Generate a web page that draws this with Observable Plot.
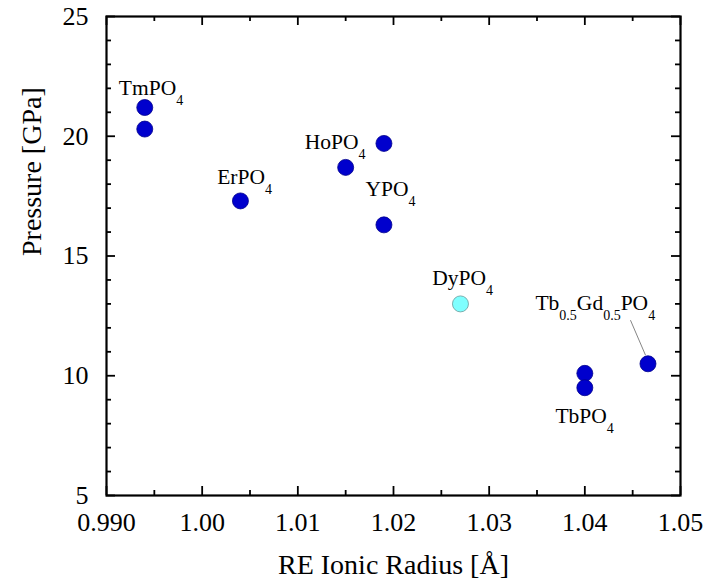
<!DOCTYPE html>
<html><head><meta charset="utf-8">
<script src="https://cdn.jsdelivr.net/npm/d3@7"></script>
<script src="https://cdn.jsdelivr.net/npm/@observablehq/plot@0.6"></script>
<style>
html,body{margin:0;padding:0;background:#fff}
#chart svg{display:block}
</style>
</head><body><div id="chart"></div>
<script>
// ---- data ----
const radius   = [0.994, 0.994, 1.004, 1.015, 1.019, 1.019, 1.027, 1.040, 1.040, 1.0466];
const pressure = [21.2, 20.3, 17.3, 18.7, 19.7, 16.3, 13.0, 10.1, 9.5, 10.5];
const compound = ["TmPO4","TmPO4","ErPO4","HoPO4","YPO4","YPO4","DyPO4","TbPO4","TbPO4","Tb0.5Gd0.5PO4"];
const kind     = ["exp","exp","exp","exp","exp","exp","other","exp","exp","exp"];

// annotation labels (anchor in data units: left end of text, baseline)
const labelText = ["TmPO4","ErPO4","HoPO4","YPO4","DyPO4","Tb0.5Gd0.5PO4","TbPO4"];
const labelX    = [0.99129, 1.00157, 1.01073, 1.01707, 1.02404, 1.03484, 1.03693];
const labelY    = [21.71, 18.02, 19.48, 17.49, 13.78, 12.74, 8.01];
// leader line for Tb0.5Gd0.5PO4
const leaderX = [1.04477, 1.04634];
const leaderY = [12.32, 10.86];

// axes
const xMajor = [0.99, 1.00, 1.01, 1.02, 1.03, 1.04, 1.05];
const xTickLabels = ["0.990", "1.00", "1.01", "1.02", "1.03", "1.04", "1.05"];
const xMinor = [0.995, 1.005, 1.015, 1.025, 1.035, 1.045];
const yMajor = [5, 10, 15, 20, 25];
const yTickLabels = ["5", "10", "15", "20", "25"];
const yMinor = [6, 7, 8, 9, 11, 12, 13, 14, 16, 17, 18, 19, 21, 22, 23, 24];
const xTitle = "RE Ionic Radius [Å]";
const yTitle = "Pressure [GPa]";

const points = radius.map((r, i) => ({r, p: pressure[i], name: compound[i], kind: kind[i]}));
const labels = labelText.map((t, i) => ({t, x: labelX[i], y: labelY[i]}));
const leader = [{x1: leaderX[0], y1: leaderY[0], x2: leaderX[1], y2: leaderY[1]}];

const FONT = "'Liberation Serif', 'Times New Roman', serif";
const MAJ = 9, MIN = 5, TW = 1.8;

const chart = Plot.plot({
  width: 706, height: 583,
  marginLeft: 106, marginRight: 26, marginTop: 16, marginBottom: 88,
  style: {fontFamily: FONT, color: "#000", background: "#fff"},
  x: {domain: [0.99, 1.05]},
  y: {domain: [5, 25]},
  marks: [
    // tick labels
    Plot.axisX(xMajor, {anchor: "bottom", tickSize: 0, tickPadding: 17, fontSize: 26,
      tickFormat: d => xTickLabels[xMajor.indexOf(d)], label: null}),
    Plot.axisY(yMajor, {anchor: "left", tickSize: 0, tickPadding: 18, fontSize: 26,
      tickFormat: d => yTickLabels[yMajor.indexOf(d)], label: null}),
    // inward ticks, all four sides
    Plot.ruleX(xMajor, {x: d => d, y1: 5, y2: 5, insetTop: -MAJ, stroke: "#000", strokeWidth: TW}),
    Plot.ruleX(xMinor, {x: d => d, y1: 5, y2: 5, insetTop: -MIN, stroke: "#000", strokeWidth: TW}),
    Plot.ruleX(xMajor, {x: d => d, y1: 25, y2: 25, insetBottom: -MAJ, stroke: "#000", strokeWidth: TW}),
    Plot.ruleX(xMinor, {x: d => d, y1: 25, y2: 25, insetBottom: -MIN, stroke: "#000", strokeWidth: TW}),
    Plot.ruleY(yMajor, {y: d => d, x1: 0.99, x2: 0.99, insetRight: -MAJ, stroke: "#000", strokeWidth: TW}),
    Plot.ruleY(yMinor, {y: d => d, x1: 0.99, x2: 0.99, insetRight: -MIN, stroke: "#000", strokeWidth: TW}),
    Plot.ruleY(yMajor, {y: d => d, x1: 1.05, x2: 1.05, insetLeft: -MAJ, stroke: "#000", strokeWidth: TW}),
    Plot.ruleY(yMinor, {y: d => d, x1: 1.05, x2: 1.05, insetLeft: -MIN, stroke: "#000", strokeWidth: TW}),
    Plot.frame({stroke: "#000", strokeWidth: 2.2}),
    // axis titles
    Plot.text([xTitle], {frameAnchor: "bottom", dy: 78, lineAnchor: "bottom", fontSize: 28, text: d => d}),
    Plot.text([yTitle], {frameAnchor: "left", dx: -66, rotate: -90, lineAnchor: "bottom", fontSize: 28, text: d => d}),
    // leader line
    Plot.link(leader, {x1: "x1", y1: "y1", x2: "x2", y2: "y2", stroke: "#777", strokeWidth: 0.9}),
    // data points
    Plot.dot(points, {x: "r", y: "p", r: 8,
      fill: d => d.kind === "exp" ? "#0000CD" : "#7FFFFF",
      stroke: d => d.kind === "exp" ? "#00008B" : "#6a9a9a",
      strokeWidth: 0.8}),
    // compound labels
    Plot.text(labels, {x: "x", y: "y", text: "t", textAnchor: "start", lineAnchor: "bottom",
      fontSize: 21.5, fill: "#000", className: "chem"})
  ]
});

// render numeric parts of chemical formulas as subscripts
d3.select(chart).selectAll(".chem text").each(function() {
  const s = this.textContent;
  const parts = s.split(/(\d+(?:\.\d+)?)/).filter(p => p.length);
  const el = d3.select(this);
  el.text(null);
  let sub = false;
  parts.forEach(p => {
    const isNum = /^\d/.test(p);
    const ts = el.append("tspan").text(p);
    if (isNum) {
      ts.attr("font-size", 14);
      if (!sub) ts.attr("dy", 10);
      sub = true;
    } else {
      if (sub) ts.attr("dy", -10);
      sub = false;
    }
  });
});

document.getElementById("chart").appendChild(chart);
</script>
</body></html>
